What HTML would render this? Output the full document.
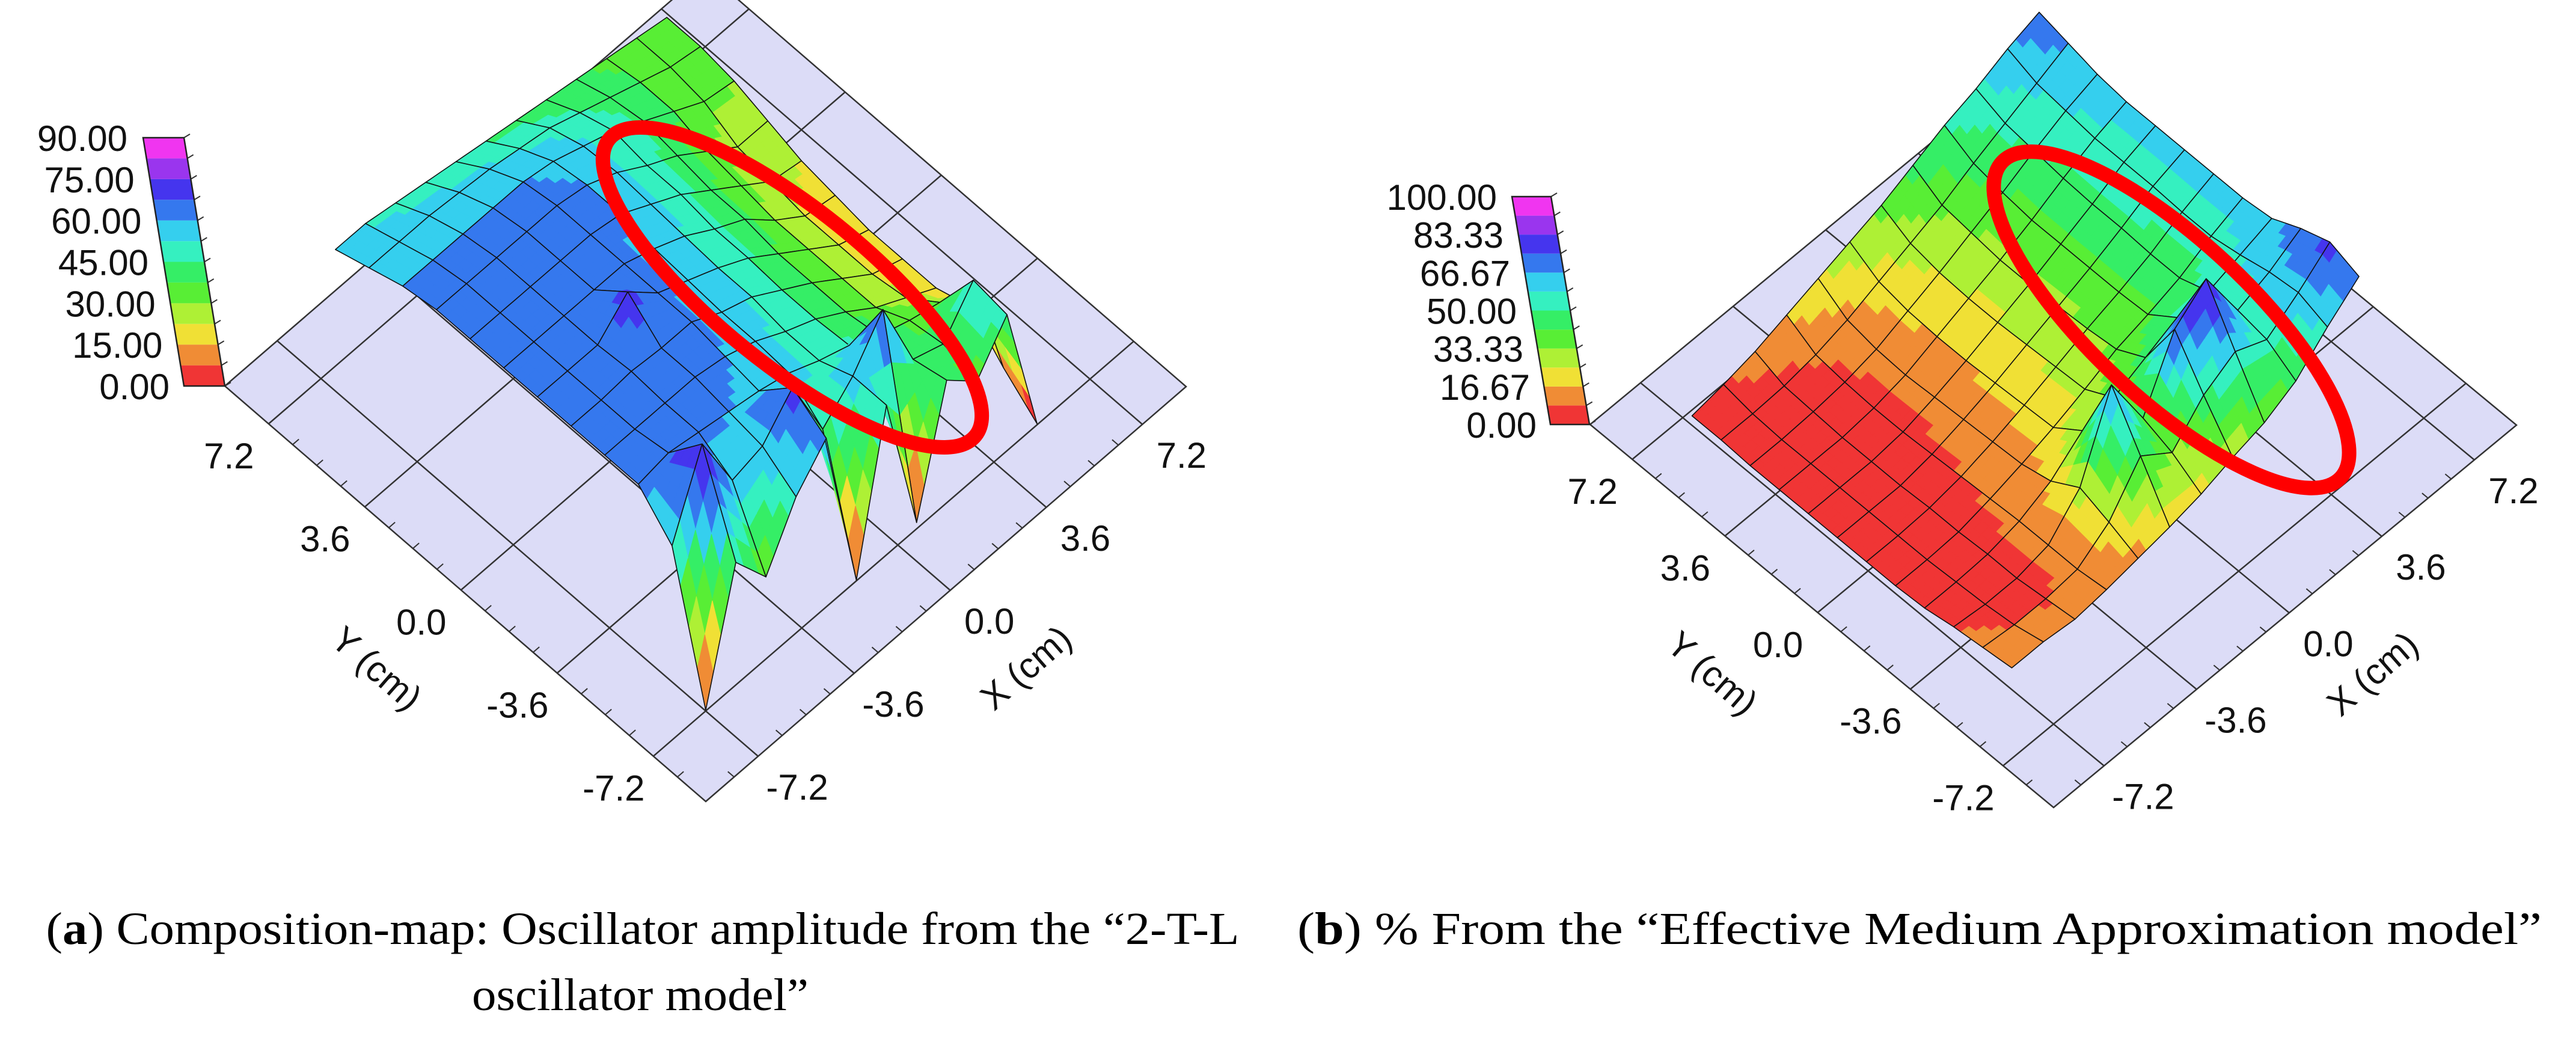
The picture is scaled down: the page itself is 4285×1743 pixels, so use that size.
<!DOCTYPE html>
<html><head><meta charset="utf-8"><title>Composition maps</title>
<style>
html,body{margin:0;padding:0;background:#fff;}
svg{display:block;}
.tk{font-family:"Liberation Sans",Arial,sans-serif;font-size:60px;fill:#111;}
.cap{font-family:"Liberation Serif",serif;font-size:76px;fill:#000;}
</style></head>
<body>
<svg id="fig" xmlns="http://www.w3.org/2000/svg" width="4285" height="1743" viewBox="0 0 4285 1743">
  <g id="panelA"></g>
  <g id="panelB"></g>
  <text class="cap" x="1069" y="1570" text-anchor="middle" textLength="1985" lengthAdjust="spacingAndGlyphs">(<tspan font-weight="bold">a</tspan>) Composition-map: Oscillator amplitude from the “2-T-L</text>
  <text class="cap" x="1065" y="1680" text-anchor="middle" textLength="560" lengthAdjust="spacingAndGlyphs">oscillator model”</text>
  <text class="cap" x="3193" y="1570" text-anchor="middle" textLength="2070" lengthAdjust="spacingAndGlyphs">(<tspan font-weight="bold">b</tspan>) % From the “Effective Medium Approximation model”</text>
</svg>
<script>
// ---- data: panel (a) oscillator amplitude, rows = Y index (front→back), cols = X index (front→right)
const ampRow0  = [0, 45, 30, 50, 62, 0, 55, 2, 45, 35, 50, 0];
const ampRow1  = [50, 78, 55, 58, 70, 45, 55, 70, 42, 38, 52, 10];
const ampRow2  = [62, 64, 62, 60, 58, 55, 50, 46, 40, 36, 33, 22];
const ampRow3  = [62, 62, 62, 62, 60, 56, 50, 45, 38, 30, 24, 18];
const ampRow4  = [62, 62, 63, 62, 62, 56, 52, 45, 38, 30, 22, 18];
const ampRow5  = [62, 62, 62, 72, 62, 57, 52, 46, 38, 30, 22, 18];
const ampRow6  = [62, 62, 62, 62, 62, 58, 53, 46, 40, 30, 22, 20];
const ampRow7  = [62, 62, 62, 62, 62, 60, 54, 48, 40, 32, 24, 22];
const ampRow8  = [62, 62, 62, 62, 62, 60, 55, 48, 42, 34, 26, 26];
const ampRow9  = [60, 60, 60, 60, 60, 58, 54, 50, 44, 38, 32, 30];
const ampRow10 = [56, 56, 56, 55, 54, 52, 50, 46, 42, 38, 34, 32];
const ampRow11 = [52, 52, 50, 48, 46, 44, 42, 40, 38, 36, 34, 32];
// ---- data: panel (b) EMA percentage
const emaRow0  = [12, 12, 10, 12, 15, 18, 22, 28, 33, 42, 58, 72];
const emaRow1  = [10, 8, 8, 10, 22, 45, 32, 50, 60, 52, 64, 78];
const emaRow2  = [8, 6, 6, 10, 28, 72, 38, 74, 88, 55, 62, 72];
const emaRow3  = [5, 5, 6, 10, 18, 32, 36, 44, 52, 52, 58, 64];
const emaRow4  = [4, 4, 5, 9, 14, 20, 27, 35, 40, 46, 55, 62];
const emaRow5  = [4, 4, 5, 8, 13, 19, 26, 33, 39, 46, 55, 62];
const emaRow6  = [4, 4, 4, 7, 12, 18, 25, 32, 39, 47, 56, 62];
const emaRow7  = [4, 4, 4, 6, 11, 17, 24, 31, 39, 47, 56, 62];
const emaRow8  = [4, 4, 4, 6, 10, 17, 24, 31, 39, 48, 56, 62];
const emaRow9  = [4, 4, 5, 7, 11, 18, 25, 33, 41, 50, 58, 64];
const emaRow10 = [5, 5, 6, 9, 14, 21, 28, 35, 44, 52, 60, 68];
const emaRow11 = [5, 8, 12, 18, 24, 30, 36, 44, 52, 58, 66, 72];
const axisTicks = [-7.2, -3.6, 0.0, 3.6, 7.2];
const axisTickLabels = ["-7.2", "-3.6", "0.0", "3.6", "7.2"];
const cbarLabelsA = ["90.00", "75.00", "60.00", "45.00", "30.00", "15.00", "0.00"];
const cbarLabelsB = ["100.00", "83.33", "66.67", "50.00", "33.33", "16.67", "0.00"];
const bandColors = ["#f03535","#f08c35","#f0e035","#aef035","#58ee35","#35ee66","#35f0c0","#35cfee","#3578ee","#4535ee","#9a35ee","#f035f0"];

const ampGrid = [ampRow0,ampRow1,ampRow2,ampRow3,ampRow4,ampRow5,ampRow6,ampRow7,ampRow8,ampRow9,ampRow10,ampRow11];
const emaGrid = [emaRow0,emaRow1,emaRow2,emaRow3,emaRow4,emaRow5,emaRow6,emaRow7,emaRow8,emaRow9,emaRow10,emaRow11];
const NS = "http://www.w3.org/2000/svg";
function mk(tag, attrs, parent){const e=document.createElementNS(NS,tag);for(const k in attrs)e.setAttribute(k,attrs[k]);parent.appendChild(e);return e;}

function drawPanel(g, cfg, grid, cbarLabels, vmax){
  const B=cfg.bottom, L=cfg.left, R=cfg.right;
  const ex=[R[0]-B[0],R[1]-B[1]], ey=[L[0]-B[0],L[1]-B[1]];
  function P(tu,tv,z){return [B[0]+tu*ex[0]+tv*ey[0], B[1]+tu*ex[1]+tv*ey[1]-z*cfg.s];}
  function tOf(val){return 0.509+val/18;}
  const T=P(1,1,0);
  const floor=mk("polygon",{points:[B,R,T,L].map(p=>p.join(",")).join(" "),fill:"#dcdcf7",stroke:"#333","stroke-width":2.5},g);
  
  
  axisTicks.forEach((v,i)=>{
    const t=tOf(v);
    const a=P(t,0,0), b=P(t,1,0);
    const gl=mk("line",{x1:a[0],y1:a[1],x2:b[0],y2:b[1],stroke:"#333","stroke-width":2.5},g);
    
    
    const c=P(0,t,0), d=P(1,t,0);
    const gl2=mk("line",{x1:c[0],y1:c[1],x2:d[0],y2:d[1],stroke:"#333","stroke-width":2.5},g);
    
    
    const lx=mk("text",{class:"tk",x:a[0]+65,y:a[1]+72,"text-anchor":"middle"},g);
    lx.textContent=axisTickLabels[i];
    
    
    const ly=mk("text",{class:"tk",x:c[0]-66,y:c[1]+74,"text-anchor":"middle"},g);
    ly.textContent=axisTickLabels[i];
    
    
  });
  for(let v=-8.1; v<=8.1; v+=0.9){
    const t=tOf(v); if(t<0.02||t>0.98) continue;
    const a=P(t,0,0), a2=P(t,0.013,0);
    const m1=mk("line",{x1:a[0],y1:a[1],x2:a2[0],y2:a2[1],stroke:"#333","stroke-width":2},g);
    
    
    const c=P(0,t,0), c2=P(0.013,t,0);
    const m2=mk("line",{x1:c[0],y1:c[1],x2:c2[0],y2:c2[1],stroke:"#333","stroke-width":2},g);
    
    
  }
  const yt=mk("text",{class:"tk",x:0,y:0,"text-anchor":"middle",transform:`translate(${cfg.ytitle[0]},${cfg.ytitle[1]}) rotate(41)`},g);
  yt.textContent="Y (cm)";
  
  
  const xt=mk("text",{class:"tk",x:0,y:0,"text-anchor":"middle",transform:`translate(${cfg.xtitle[0]},${cfg.xtitle[1]}) rotate(-41)`},g);
  xt.textContent="X (cm)";
  
  
  // surface
  const n=grid.length, m=grid[0].length;
  const tu=j=>cfg.ua+(cfg.ub-cfg.ua)*j/(m-1), tv=i=>cfg.va+(cfg.vb-cfg.va)*i/(n-1);
  const quads=[];
  for(let i=0;i<n-1;i++)for(let j=0;j<m-1;j++)quads.push([i,j]);
  quads.sort((p,q)=>(q[0]+q[1])-(p[0]+p[1]) || (Math.abs(q[0]-q[1])-Math.abs(p[0]-p[1])));
  const sg=mk("g",{},g);
  
  
  const SUB=4;
  quads.forEach(([i,j])=>{
    const z00=grid[i][j], z01=grid[i][j+1], z11=grid[i+1][j+1], z10=grid[i+1][j];
    const zAt=(a,b)=>z00*(1-a)*(1-b)+z01*(1-a)*b+z10*a*(1-b)+z11*a*b; // a along i, b along j
    const pAt=(a,b)=>P(tu(j)+(tu(j+1)-tu(j))*b, tv(i)+(tv(i+1)-tv(i))*a, zAt(a,b));
    const cg=mk("g",{},sg);
    
    
    const subs=[];
    for(let a=0;a<SUB;a++)for(let b=0;b<SUB;b++)subs.push([a,b]);
    subs.sort((p,q)=>(q[0]+q[1])-(p[0]+p[1]));
    subs.forEach(([a,b])=>{
      const A0=a/SUB,A1=(a+1)/SUB,B0=b/SUB,B1=(b+1)/SUB;
      const pts=[pAt(A0,B0),pAt(A0,B1),pAt(A1,B1),pAt(A1,B0)];
      const val=zAt((A0+A1)/2,(B0+B1)/2);
      const band=Math.max(0,Math.min(11,Math.floor(val/vmax*12)));
      const c=bandColors[band];
      mk("polygon",{points:pts.map(p=>p[0].toFixed(1)+","+p[1].toFixed(1)).join(" "),fill:c,stroke:c,"stroke-width":1.2,"stroke-linejoin":"round"},cg);
    });
    const outline=[];
    for(let b=0;b<=SUB;b++)outline.push(pAt(0,b/SUB));
    for(let a=1;a<=SUB;a++)outline.push(pAt(a/SUB,1));
    for(let b=SUB-1;b>=0;b--)outline.push(pAt(1,b/SUB));
    for(let a=SUB-1;a>0;a--)outline.push(pAt(a/SUB,0));
    mk("polygon",{points:outline.map(p=>p[0].toFixed(1)+","+p[1].toFixed(1)).join(" "),fill:"none",stroke:"#111","stroke-width":1.6,"stroke-linejoin":"round"},cg);
  });
  // colorbar
  const cb=cfg.cbar;
  const cg=mk("g",{},g);
  
  
  for(let k=0;k<12;k++){
    const f0=k/12,f1=(k+1)/12;
    const y0=cb[4]-(cb[4]-cb[1])*f0, y1=cb[4]-(cb[4]-cb[1])*f1;
    const x0=cb[3]+(cb[0]-cb[3])*f0, x1=cb[3]+(cb[0]-cb[3])*f1;
    const r=mk("polygon",{points:`${x0},${y0} ${x0+cb[2]},${y0} ${x1+cb[2]},${y1} ${x1},${y1}`,fill:bandColors[k]},cg);
    
    
  }
  for(let k=0;k<=12;k++){
    const f=k/12, y=cb[4]-(cb[4]-cb[1])*f, x=cb[3]+(cb[0]-cb[3])*f+cb[2];
    const tk=mk("line",{x1:x,y1:y,x2:x+10,y2:y-6,stroke:"#333","stroke-width":2},cg);
    
    
  }
  mk("polygon",{points:`${cb[0]},${cb[1]} ${cb[0]+cb[2]},${cb[1]} ${cb[3]+cb[2]},${cb[4]} ${cb[3]},${cb[4]}`,fill:"none",stroke:"#222","stroke-width":2.5},cg);
  cbarLabels.forEach((lab,k)=>{
    const f=1-k/6;
    const y=cb[4]-(cb[4]-cb[1])*f;
    const x=cfg.cbLabX[0]+(cfg.cbLabX[1]-cfg.cbLabX[0])*(k/6);
    const t=mk("text",{class:"tk",x:x,y:y+22,"text-anchor":"end","font-size":cfg.cbFont},cg);
    t.textContent=lab;
    
    
  });
  const e=cfg.ell;
  const el=mk("ellipse",{cx:0,cy:0,rx:e[2],ry:e[3],fill:"none",stroke:"#ff0000","stroke-width":24,transform:`translate(${e[0]},${e[1]}) rotate(${e[4]})`},g);
  
  
}

drawPanel(document.getElementById("panelA"),{
  bottom:[1174,1333], left:[374,642], right:[1973,643], s:4.5,
  ua:0.11, ub:0.80, va:0.11, vb:0.88,
  ytitle:[613,1127], xtitle:[1720,1126],
  cbar:[238,229,68,306,642], cbLabX:[212,282], cbFont:60,
  ell:[1318,478,392,128,39]
}, ampGrid, cbarLabelsA, 90);

drawPanel(document.getElementById("panelB"),{
  bottom:[3416,1343], left:[2645,706], right:[4186,707], s:2.9,
  ua:0.11, ub:0.86, va:0.2, vb:0.89,
  ytitle:[2835,1135], xtitle:[3960,1136],
  cbar:[2515,327,65,2579,706], cbLabX:[2490,2556], cbFont:56,
  ell:[3612,532,385,132,43]
}, emaGrid, cbarLabelsB, 100);
</script>
</body></html>
